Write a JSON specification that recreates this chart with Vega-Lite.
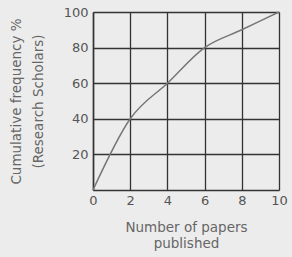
{
  "$schema": "https://vega.github.io/schema/vega-lite/v6.json",
  "autosize": "none",
  "width": 186,
  "height": 178,
  "padding": {"left": 93, "top": 12, "right": 13, "bottom": 67},
  "background": "#ececec",
  "config": {
    "view": {"stroke": null},
    "font": "DejaVu Sans",
    "axis": {
      "domainColor": "#333333",
      "domainWidth": 1.5,
      "gridColor": "#333333",
      "gridOpacity": 1,
      "gridWidth": 1.3,
      "ticks": false,
      "labelColor": "#555555",
      "labelFontSize": 13,
      "titleColor": "#666666",
      "titleFontSize": 13.5,
      "titleFontWeight": "normal"
    }
  },
  "data": {
    "values": [
      {"papers": 0, "cum": 0},
      {"papers": 2, "cum": 40},
      {"papers": 4, "cum": 60},
      {"papers": 6, "cum": 80},
      {"papers": 8, "cum": 90},
      {"papers": 10, "cum": 100}
    ]
  },
  "mark": {"type": "line", "color": "#777777", "strokeWidth": 1.5, "interpolate": "monotone"},
  "encoding": {
    "x": {
      "field": "papers", "type": "quantitative",
      "scale": {"domain": [0, 10], "nice": false},
      "axis": {"values": [0, 2, 4, 6, 8, 10], "labelPadding": 4, "labelFlush": false,
               "title": ["Number of papers", "published"], "titlePadding": 13, "titleLineHeight": 16}
    },
    "y": {
      "field": "cum", "type": "quantitative",
      "scale": {"domain": [0, 100], "nice": false},
      "axis": {"values": [20, 40, 60, 80, 100], "labelPadding": 5,
               "title": ["Cumulative frequency %", "(Research Scholars)"], "titlePadding": 18, "titleLineHeight": 22}
    }
  }
}
